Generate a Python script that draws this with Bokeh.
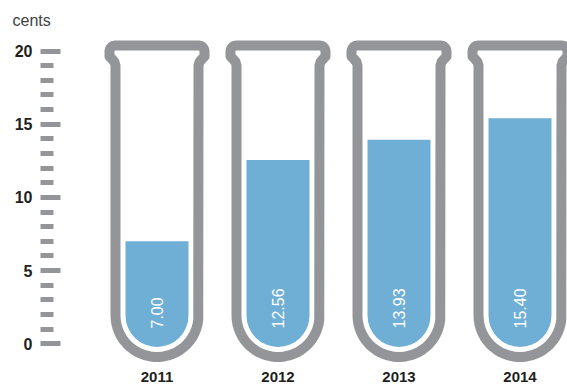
import numpy as np
from bokeh.plotting import figure
from bokeh.models import Range1d, FixedTicker
from bokeh.core.properties import value
from bokeh.embed import file_html
from bokeh.resources import INLINE

# ---- data ----
years = ["2011", "2012", "2013", "2014"]
prices = [7.00, 12.56, 13.93, 15.40]
y_ticks = [0, 5, 10, 15, 20]
y_minor = [v for v in range(0, 21) if v % 5]
unit_label = "cents"

GREY = "#939598"
BLUE = "#6faed5"
DARK = "#231f20"
FONT = "Liberation Sans"

# ---- pixel geometry of the layout ----
W, H = 567, 385
LEFT = 40
TOP = 28
PX_X = 121.0     # px per category
X0_PX = 156.5    # px centre of first category
PX_Y = 14.64     # px per cent
Y0_PX = 343.3    # px of zero

def ydata(ypx):
    return (Y0_PX - ypx) / PX_Y

x_lo = (LEFT - X0_PX) / PX_X
x_hi = (W - X0_PX) / PX_X

p = figure(width=W, height=H, title=unit_label,
           x_range=Range1d(x_lo, x_hi), y_range=Range1d(ydata(H), ydata(TOP)),
           output_backend="svg", toolbar_location=None,
           x_axis_location=None, y_axis_location="left",
           min_border_left=LEFT, min_border_right=0,
           min_border_top=TOP, min_border_bottom=0)
p.outline_line_color = None
p.background_fill_color = "white"
p.border_fill_color = "white"
p.grid.visible = False

p.title.align = "left"
p.title.offset = -28
p.title.standoff = 0
p.title.vertical_align = "bottom"
p.title.text_font = FONT
p.title.text_font_size = "16px"
p.title.text_font_style = "normal"
p.title.text_color = "#414042"

idx = list(range(len(years)))

# ---- test-tube outlines ----
def tube_path(i):
    pts = []
    hw = 41.5
    bc = 315.0
    pts += [(-hw, bc), (-hw, 65)]
    pts += [(-42.5, 61.5), (-45.0, 58.5), (-47.5, 56.0), (-47.5, 51.0)]
    for a in np.linspace(0, np.pi / 2, 8)[1:]:
        pts.append((-hw - 6 * np.cos(a), 51 - 6 * np.sin(a)))
    right = [(-x, y) for (x, y) in reversed(pts[1:])]
    pts += right
    for a in np.linspace(0, np.pi, 30)[1:]:
        pts.append((hw * np.cos(a), bc + hw * np.sin(a)))
    xs = [i + x / PX_X for x, _ in pts]
    ys = [ydata(y) for _, y in pts]
    return xs, ys

txs, tys = zip(*[tube_path(i) for i in idx])
p.multi_line(xs=list(txs), ys=list(tys), line_color=GREY, line_width=10,
             line_join="round", line_cap="round")

# ---- liquid bars with rounded bottom ----
p.vbar(x=idx, width=63 / PX_X, top=prices, bottom=ydata(346.5),
       fill_color=BLUE, line_color=None, border_radius=(0, 0, 32, 32))

# ---- value labels ----
p.text(x=idx, y=ydata(328), text=["%.2f" % v for v in prices], angle=np.pi / 2,
       text_align="left", text_baseline="middle", text_color="white",
       text_font=value(FONT), text_font_size="16px")

# ---- category labels ----
p.text(x=idx, y=ydata(376.5), text=years, text_align="center",
       text_baseline="middle", text_color=DARK, text_font=value(FONT),
       text_font_size="15px", text_font_style="bold")

# ---- y axis ----
ax = p.yaxis[0]
ax.ticker = FixedTicker(ticks=y_ticks, minor_ticks=y_minor)
ax.axis_line_color = None
ax.major_tick_in = 20
ax.major_tick_out = 0
ax.minor_tick_in = 13
ax.minor_tick_out = 0
ax.major_tick_line_width = 5
ax.minor_tick_line_width = 5
ax.major_tick_line_color = GREY
ax.minor_tick_line_color = GREY
ax.major_tick_line_cap = "butt"
ax.minor_tick_line_cap = "butt"
ax.major_label_standoff = 8
ax.major_label_text_font = FONT
ax.major_label_text_font_size = "16px"
ax.major_label_text_font_style = "bold"
ax.major_label_text_color = DARK

open("out.html", "w").write(file_html(p, INLINE))
